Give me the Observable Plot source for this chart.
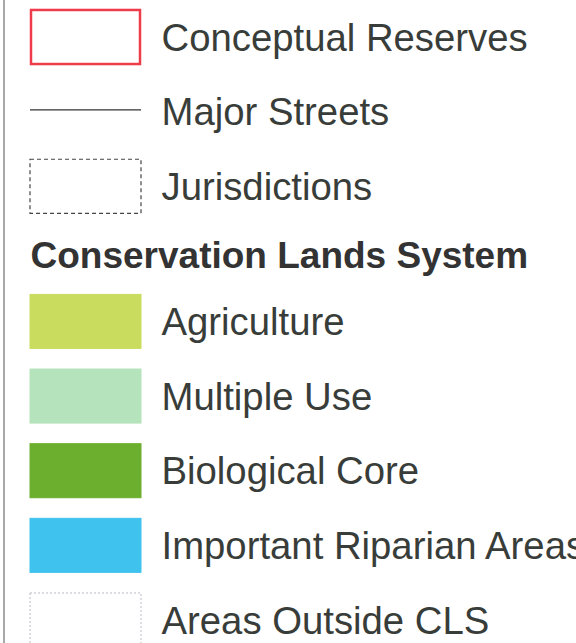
<!DOCTYPE html>
<html>
<head>
<meta charset="utf-8">
<script src="https://cdn.jsdelivr.net/npm/d3@7"></script>
<script src="https://cdn.jsdelivr.net/npm/@observablehq/plot@0.6"></script>
<style>
  html, body { margin: 0; padding: 0; background: #ffffff; }
  #chart { width: 576px; height: 643px; overflow: hidden; }
  svg { display: block; }
</style>
</head>
<body>
<div id="chart"></div>
<script>
const labels = ["Conceptual Reserves", "Major Streets", "Jurisdictions", "Agriculture", "Multiple Use", "Biological Core", "Important Riparian Areas", "Areas Outside CLS"];
const kinds = ["outline", "line", "dashed", "fill", "fill", "fill", "fill", "empty"];
const fills = ["none", "none", "none", "#c9dc5e", "#b5e3bc", "#6cae2e", "#3fc3ee", "#ffffff"];
const header = "Conservation Lands System";

const headerGap = 0.81;
const rows = labels.map((label, i) => ({
  label, kind: kinds[i], fill: fills[i],
  y: i + (i >= 3 ? headerGap : 0)
}));
const headerRow = [{label: header, y: 2 + headerGap * 1.15 }];

const sw = {x1: 30, x2: 141, textX: 161, half: 0.362};
const font = "'Liberation Sans', Arial, Helvetica, sans-serif";

const chart = Plot.plot({
  width: 576,
  height: 643,
  margin: 0,
  style: {background: "#ffffff", fontFamily: font},
  x: {domain: [0, 576], range: [0, 576], axis: null},
  y: {domain: [0, 7 + headerGap], range: [37, 620], axis: null},
  marks: [
    Plot.ruleX([3.5], {stroke: "#a8a8a8", strokeWidth: 2}),
    Plot.rect(rows.filter(d => d.kind === "fill"), {
      x1: sw.x1, x2: sw.x2, y1: d => d.y - sw.half, y2: d => d.y + sw.half,
      fill: d => d.fill, stroke: d => d.fill, strokeWidth: 1
    }),
    Plot.rect(rows.filter(d => d.kind === "outline"), {
      x1: sw.x1 + 1, x2: sw.x2 - 1, y1: d => d.y - sw.half, y2: d => d.y + sw.half,
      fill: "none", stroke: "#ee3c4a", strokeWidth: 2.5
    }),
    Plot.rect(rows.filter(d => d.kind === "dashed"), {
      x1: sw.x1, x2: sw.x2, y1: d => d.y - sw.half, y2: d => d.y + sw.half,
      fill: "none", stroke: "#444", strokeWidth: 1.2, strokeDasharray: "4,3"
    }),
    Plot.rect(rows.filter(d => d.kind === "empty"), {
      x1: sw.x1, x2: sw.x2, y1: d => d.y - sw.half, y2: d => d.y + sw.half,
      fill: "#ffffff", stroke: "#b8bcc8", strokeWidth: 1, strokeDasharray: "2,2"
    }),
    Plot.ruleY(rows.filter(d => d.kind === "line"), {
      x1: sw.x1, x2: sw.x2, y: d => d.y - 0.03, stroke: "#333", strokeWidth: 1.3
    }),
    Plot.text(rows, {
      x: sw.textX, y: "y", text: "label", textAnchor: "start",
      fontSize: 38.3, fill: "#383d3a", fontFamily: font, dy: 1
    }),
    Plot.text(headerRow, {
      x: sw.x1, y: "y", text: "label", textAnchor: "start",
      fontSize: 37, fontWeight: "bold", fill: "#333333", fontFamily: font
    })
  ]
});
document.getElementById("chart").append(chart);
</script>
</body>
</html>
